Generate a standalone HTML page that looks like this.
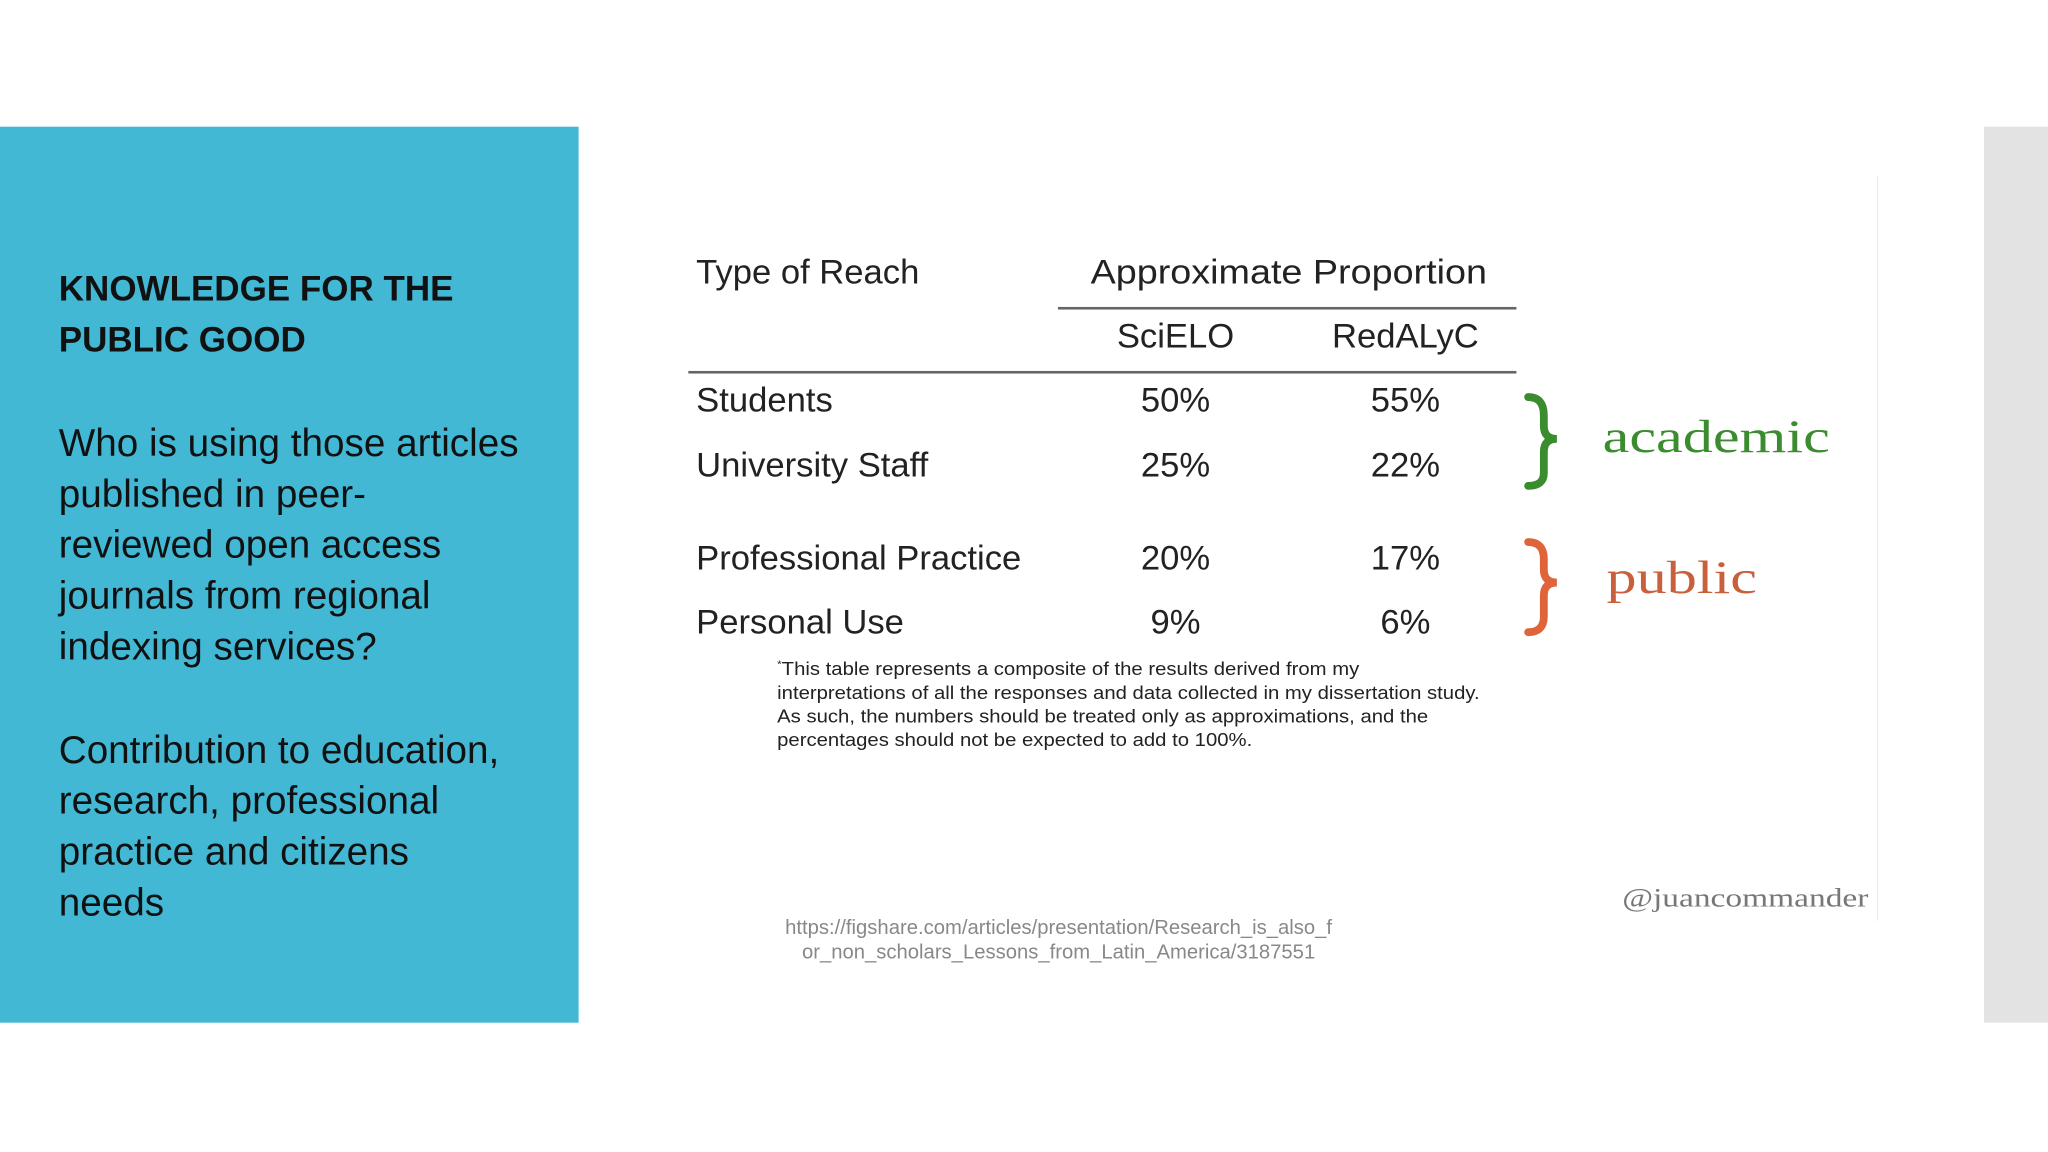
<!DOCTYPE html>
<html><head><meta charset="utf-8"><style>
html,body{margin:0;padding:0;background:#fff;}
body{width:2048px;height:1152px;overflow:hidden;position:relative;}
#s{position:absolute;left:0;top:0;width:1568px;height:882px;transform:scale(1.30612);transform-origin:0 0;font-family:"Liberation Sans",sans-serif;}
.a{position:absolute;white-space:nowrap;}
.t{font-size:26.5px;color:#222;line-height:30px;}
.c{text-align:center;width:120px;margin-left:-60px;}
.ln{position:absolute;height:2px;background:#666;}
.lt{position:absolute;left:45px;font-size:29.6px;line-height:39px;color:#111;}
.fn{font-size:14px;color:#222;line-height:18px;transform:scaleX(1.11);transform-origin:0 0;}
.sx{transform:scaleX(1.28);transform-origin:0 50%;}
</style></head><body>
<div id="s">
<div class="a" style="left:0;top:97px;width:443px;height:686px;background:#42b8d5"></div>
<div class="a" style="left:1519px;top:97px;width:49px;height:686px;background:#e3e3e3"></div>
<div class="a" style="left:1437px;top:135px;width:1px;height:570px;background:#eee"></div>
<div class="lt" style="top:202px;font-weight:bold;font-size:26.8px;">KNOWLEDGE FOR THE<br>PUBLIC GOOD</div>
<div class="lt" style="top:320px;">Who is using those articles<br>published in peer-<br>reviewed open access<br>journals from regional<br>indexing services?</div>
<div class="lt" style="top:555px;">Contribution to education,<br>research, professional<br>practice and citizens<br>needs</div>

<div class="a t" style="left:533px;top:193px">Type of Reach</div>
<div class="a t" style="left:835px;top:193px;transform:scaleX(1.09);transform-origin:0 50%">Approximate Proportion</div>
<div class="ln" style="left:810px;top:235px;width:351px"></div>
<div class="a t c" style="left:900px;top:242px">SciELO</div>
<div class="a t c" style="left:1076px;top:242px">RedALyC</div>
<div class="ln" style="left:527px;top:284px;width:634px"></div>

<div class="a t" style="left:533px;top:291px">Students</div>
<div class="a t c" style="left:900px;top:291px">50%</div>
<div class="a t c" style="left:1076px;top:291px">55%</div>
<div class="a t" style="left:533px;top:341px">University Staff</div>
<div class="a t c" style="left:900px;top:341px">25%</div>
<div class="a t c" style="left:1076px;top:341px">22%</div>
<div class="a t" style="left:533px;top:412px">Professional Practice</div>
<div class="a t c" style="left:900px;top:412px">20%</div>
<div class="a t c" style="left:1076px;top:412px">17%</div>
<div class="a t" style="left:533px;top:461px">Personal Use</div>
<div class="a t c" style="left:900px;top:461px">9%</div>
<div class="a t c" style="left:1076px;top:461px">6%</div>

<svg class="a" style="left:1160px;top:298px" width="45" height="195">
<path d="M10 6 Q22 6 22 20 L22 28 Q22 38 32 38 Q22 38 22 48 L22 64 Q22 74 10 74" fill="none" stroke="#3a8c2e" stroke-width="6" stroke-linecap="round"/>
<path d="M10 117 Q22 117 22 130 L22 138 Q22 148 32 148 Q22 148 22 158 L22 174 Q22 186 10 186" fill="none" stroke="#e0643a" stroke-width="6" stroke-linecap="round"/>
</svg>
<div class="a sx" style="left:1227px;top:313px;font-family:'Liberation Serif',serif;font-size:36px;color:#3a8c2e">academic</div>
<div class="a sx" style="left:1230px;top:421px;font-family:'Liberation Serif',serif;font-size:36px;color:#c8603c">public</div>

<div class="a fn" style="left:595px;top:500px"><sup style="font-size:8px">*</sup>This table represents a composite of the results derived from my<br>interpretations of all the responses and data collected in my dissertation study.<br>As such, the numbers should be treated only as approximations, and the<br>percentages should not be expected to add to 100%.</div>

<div class="a sx" style="left:1242px;top:677px;font-family:'Liberation Serif',serif;font-size:20px;color:#777">@juancommander</div>
<div class="a" style="left:592px;top:701px;font-size:15.5px;line-height:19px;color:#888;text-align:center;width:437px;white-space:normal">https://figshare.com/articles/presentation/Research_is_also_f<br>or_non_scholars_Lessons_from_Latin_America/3187551</div>
</div>
</body></html>
